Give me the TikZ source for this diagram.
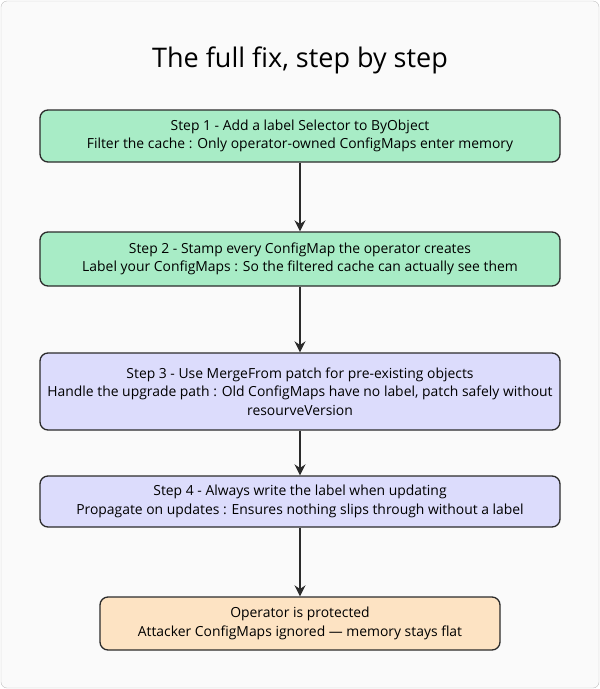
\documentclass[tikz,border=0pt]{standalone}
\usepackage{fontspec}
\setmainfont{Open Sans}
\usetikzlibrary{arrows.meta}
\definecolor{gfill}{HTML}{A8ECC6}
\definecolor{pfill}{HTML}{DCDCFC}
\definecolor{ofill}{HTML}{FDE3C3}
\definecolor{edge}{HTML}{2B2B2B}
\begin{document}
\begin{tikzpicture}[x=1pt,y=-1pt,
  box/.style={draw=edge,line width=1.3pt,rounded corners=8pt,align=center,font=\fontsize{13.9}{18.5}\selectfont,inner sep=0pt},
  arr/.style={draw=edge,line width=1.6pt,-{Stealth[length=11pt,width=11pt]}}]
\useasboundingbox (0,0) rectangle (600,689);
\draw[draw=black!25,fill=black!2,rounded corners=6pt] (1,1) rectangle (599,688);
\node[font=\fontsize{27}{31}\selectfont] (title) at (300,60) {The full fix, step by step};
\node[box,fill=gfill,minimum width=520pt,minimum height=52pt] (s1) at (300,136) {Step 1 - Add a label Selector to ByObject\\Filter the cache : Only operator-owned ConfigMaps enter memory};
\node[box,fill=gfill,minimum width=520pt,minimum height=54pt] (s2) at (300,259) {Step 2 - Stamp every ConfigMap the operator creates\\Label your ConfigMaps : So the filtered cache can actually see them};
\node[box,fill=pfill,minimum width=520pt,minimum height=77pt] (s3) at (300,391.5) {Step 3 - Use MergeFrom patch for pre-existing objects\\Handle the upgrade path : Old ConfigMaps have no label, patch safely without\\resourveVersion};
\node[box,fill=pfill,minimum width=520pt,minimum height=51pt] (s4) at (300,501.5) {Step 4 - Always write the label when updating\\Propagate on updates : Ensures nothing slips through without a label};
\node[box,fill=ofill,minimum width=400pt,minimum height=53pt] (s5) at (300,623.5) {Operator is protected\\Attacker ConfigMaps ignored — memory stays flat};
\draw[arr] (s1) -- (s2);
\draw[arr] (s2) -- (s3);
\draw[arr] (s3) -- (s4);
\draw[arr] (s4) -- (s5);
\end{tikzpicture}
\end{document}
